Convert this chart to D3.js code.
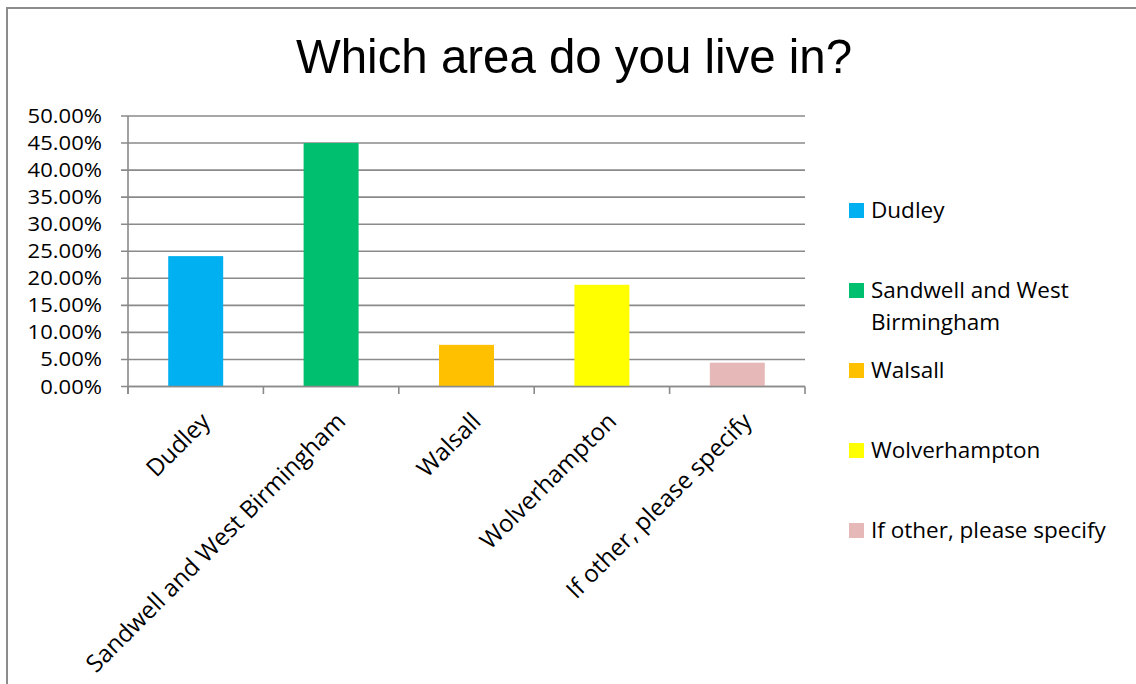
<!DOCTYPE html>
<html>
<head>
<meta charset="utf-8">
<script src="https://cdn.jsdelivr.net/npm/d3@7"></script>
<style>
  html, body { margin: 0; padding: 0; background: #fff; }
  svg { display: block; }
</style>
</head>
<body>
<svg id="chart" width="1136" height="684"></svg>
<script>
// Survey answers: share of respondents by area
const categories = ["Dudley", "Sandwell and West Birmingham", "Walsall", "Wolverhampton", "If other, please specify"];
const shares = [0.241, 0.450, 0.077, 0.188, 0.044];
const barColors = ["#00B0F0", "#00BF6F", "#FFC000", "#FFFF00", "#E6B8B7"];
const yTicks = [0, 0.05, 0.10, 0.15, 0.20, 0.25, 0.30, 0.35, 0.40, 0.45, 0.50];
const titleText = "Which area do you live in?";

const svg = d3.select("#chart");
const labelFont = "'Open Sans', 'Noto Sans', sans-serif";
const gridColor = "#8a8a8a";

// outer frame
svg.append("rect")
  .attr("x", 7).attr("y", 8)
  .attr("width", 1140).attr("height", 700)
  .attr("fill", "#fff")
  .attr("stroke", "#8c8c8c").attr("stroke-width", 2);

// title
svg.append("text")
  .attr("x", 574).attr("y", 73)
  .attr("text-anchor", "middle")
  .attr("textLength", 556)
  .attr("lengthAdjust", "spacingAndGlyphs")
  .style("font-family", "'Liberation Sans', Arial, sans-serif")
  .style("font-size", "49px")
  .attr("fill", "#000")
  .text(titleText);

const plot = { left: 128, right: 805, top: 116, bottom: 386.5 };

const x = d3.scaleBand().domain(categories).range([plot.left, plot.right]).padding(0);
const y = d3.scaleLinear().domain([0, 0.5]).range([plot.bottom, plot.top]);
const color = d3.scaleOrdinal().domain(categories).range(barColors);

// horizontal gridlines
svg.append("g")
  .selectAll("line")
  .data(yTicks)
  .join("line")
  .attr("x1", plot.left - 7).attr("x2", plot.right)
  .attr("y1", d => y(d)).attr("y2", d => y(d))
  .attr("stroke", gridColor).attr("stroke-width", 1.6);

// y axis line
svg.append("line")
  .attr("x1", plot.left).attr("x2", plot.left)
  .attr("y1", y(0.5)).attr("y2", plot.bottom + 7.5)
  .attr("stroke", gridColor).attr("stroke-width", 1.6);

// y tick labels (slightly widened glyphs to keep the compact line height)
const fmt = d3.format(".2%");
svg.append("g")
  .selectAll("text")
  .data(yTicks)
  .join("text")
  .attr("x", plot.left - 26)
  .attr("y", d => y(d))
  .attr("dy", "0.36em")
  .attr("text-anchor", "end")
  .style("font-family", labelFont)
  .style("font-size", "19.5px")
  .attr("fill", "#000")
  .text(d => fmt(d))
  .each(function () {
    const w = this.getComputedTextLength();
    d3.select(this).attr("textLength", w * 1.13).attr("lengthAdjust", "spacingAndGlyphs");
  });

// bars
const barFrac = 0.406;
svg.append("g")
  .selectAll("rect")
  .data(categories.map((c, i) => ({ c, v: shares[i] })))
  .join("rect")
  .attr("x", d => x(d.c) + x.bandwidth() * (1 - barFrac) / 2)
  .attr("width", x.bandwidth() * barFrac)
  .attr("y", d => y(d.v))
  .attr("height", d => y(0) - y(d.v))
  .attr("fill", d => color(d.c));

// x axis line and category boundary ticks
svg.append("line")
  .attr("x1", plot.left).attr("x2", plot.right)
  .attr("y1", y(0)).attr("y2", y(0))
  .attr("stroke", gridColor).attr("stroke-width", 1.6);
const bounds = categories.map(c => x(c)).concat([plot.right]);
svg.append("g")
  .selectAll("line")
  .data(bounds)
  .join("line")
  .attr("x1", d => d).attr("x2", d => d)
  .attr("y1", y(0)).attr("y2", y(0) + 7.5)
  .attr("stroke", gridColor).attr("stroke-width", 1.6);

// rotated category labels
svg.append("g")
  .selectAll("text")
  .data(categories)
  .join("text")
  .attr("transform", c => `translate(${x(c) + x.bandwidth() / 2 + 3},${410}) rotate(-45)`)
  .attr("text-anchor", "end")
  .attr("dy", "0.76em")
  .style("font-family", labelFont)
  .style("font-size", "24px")
  .attr("fill", "#000")
  .text(c => c);

// legend
const legend = svg.append("g");
const legendX = 849, legendTop = 218, legendStep = 80, wrapWidth = 260;
categories.forEach((c, i) => {
  const by = legendTop + i * legendStep;
  legend.append("rect")
    .attr("x", legendX).attr("y", by - 15)
    .attr("width", 15).attr("height", 15)
    .attr("fill", color(c));
  const t = legend.append("text")
    .attr("x", legendX + 22).attr("y", by)
    .style("font-family", labelFont)
    .style("font-size", "22.5px")
    .attr("fill", "#000");
  // simple word wrap
  const words = c.split(" ");
  let line = [];
  let tspan = t.append("tspan").attr("x", legendX + 22).attr("dy", 0);
  words.forEach(w => {
    line.push(w);
    tspan.text(line.join(" "));
    if (tspan.node().getComputedTextLength() > wrapWidth && line.length > 1) {
      line.pop();
      tspan.text(line.join(" "));
      line = [w];
      tspan = t.append("tspan").attr("x", legendX + 22).attr("dy", 32).text(w);
    }
  });
});
</script>
</body>
</html>
